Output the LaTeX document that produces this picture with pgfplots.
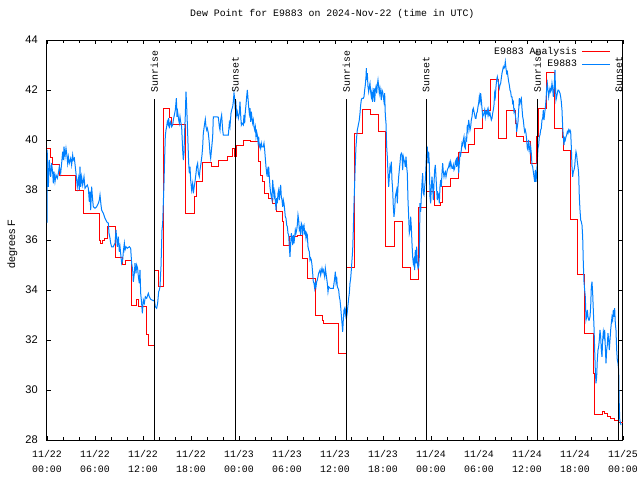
\documentclass[border=0pt]{standalone}
\usepackage{pgfplots}
\pgfplotsset{compat=1.18}
\usepackage{fontspec}
\setmainfont{Liberation Mono}
\setsansfont{Liberation Sans}
\setmonofont{Liberation Mono}
\definecolor{ared}{RGB}{255,0,0}
\definecolor{oblue}{RGB}{0,128,255}
\newcommand{\monof}{\ttfamily\fontsize{7.4}{11.25}\selectfont}
\begin{document}
\begin{tikzpicture}
\path[use as bounding box] (-35.25pt,-30pt) rectangle (444.75pt,330pt);
\begin{axis}[
  at={(0pt,0pt)}, anchor=south west,
  scale only axis, width=432pt, height=300pt,
  xmin=0, xmax=72, ymin=28, ymax=44,
  xtick={0,6,...,72}, minor x tick num=2,
  ytick={28,30,...,44},
  xticklabels={{11/22\\00:00},{11/22\\06:00},{11/22\\12:00},{11/22\\18:00},{11/23\\00:00},{11/23\\06:00},{11/23\\12:00},{11/23\\18:00},{11/24\\00:00},{11/24\\06:00},{11/24\\12:00},{11/24\\18:00},{11/25\\00:00}},
  x tick label style={font=\monof, align=center, inner sep=0pt, yshift=-7.5pt},
  y tick label style={font=\sffamily\fontsize{8.3}{9}\selectfont, inner sep=0pt, xshift=-6.75pt},
  /pgf/number format/assume math mode=true,
  tick align=inside,
  major tick length=3pt, minor tick length=2pt,
  every tick/.style={black, line width=0.6pt},
  axis line style={line width=0.75pt},
  ylabel={degrees F},
  ylabel style={font=\sffamily\fontsize{8}{9}\selectfont, at={(axis description cs:-0.06,0.49)}, anchor=center, rotate=0},
  title={Dew Point for E9883 on 2024-Nov-22 (time in UTC)},
  title style={font=\monof, at={(0.5,1)}, anchor=base, yshift=12pt, xshift=-2pt},
  legend plot pos=right,
  legend cell align=right,
  legend style={draw=none, fill=none, at={(1,1)}, anchor=north east, xshift=-9pt, yshift=-4pt, font=\monof, row sep=1pt, column sep=2.5pt, inner sep=0pt, nodes={inner sep=1pt}},
  legend image code/.code={\draw[#1] (0pt,0pt) -- (21pt,0pt);},
]
\addplot[ared, const plot, line width=0.75pt] coordinates {
(0,39.67) (0.5,39.29) (0.67,39.03) (1.625,38.57) (3.58,38.0) (4.54,37.05) (6.6,36.0) (6.75,35.87) (6.95,36.0) (7.2,36.07) (7.62,36.55) (8.625,35.29) (9.5,35.03) (9.875,35.2) (10.6,33.37) (11.21,33.63) (11.46,33.33) (12.42,32.93) (12.5,32.24) (12.67,31.8) (13.45,34.8) (13.96,34.13) (14.625,41.25) (15.375,40.89) (15.58,40.63) (17.3,37.07) (18.46,37.76) (18.67,38.33) (19.46,39.09) (20.58,38.96) (21.5,39.17) (22.58,39.33) (23.25,39.65) (23.5,39.33) (23.75,39.8) (24.58,40.0) (25.5,39.93) (26.5,39.13) (26.67,38.6) (27.0,38.33) (27.21,37.87) (27.71,37.67) (28.25,37.47) (28.67,37.13) (29.42,36.73) (29.625,35.8) (30.33,36.13) (31.3,36.2) (31.9,35.27) (32.6,34.47) (33.55,33.0) (34.42,32.8) (34.6,32.67) (36.5,31.47) (37.42,34.91) (38.5,40.27) (39.5,41.23) (40.42,41.04) (41.46,40.36) (42.375,35.76) (43.42,36.76) (44.5,34.89) (45.42,34.43) (46.5,37.29) (47.42,37.93) (48.46,37.4) (49.21,37.49) (49.5,38.13) (50.46,38.47) (51.5,39.49) (52.71,39.83) (53.46,40.47) (54.4,41.2) (55.46,42.43) (56.46,40.07) (57.46,41.2) (58.54,40.67) (58.75,40.13) (59.58,39.96) (60.42,39.07) (61.25,40.13) (61.5,41.27) (62.5,42.69) (63.5,40.47) (64.5,40.11) (64.58,39.6) (65.5,36.83) (66.375,34.63) (67.2,32.27) (68.33,30.67) (68.46,29.04) (69.4,29.13) (69.75,29.07) (70.1,28.95) (70.5,28.85) (71.0,28.78) (71.5,28.72) (72,28.7)
};
\addlegendentry{E9883 Analysis}
\addplot[oblue, line width=0.75pt] coordinates {
(0,36.69) (0.02,39.6) (0.17,38.13) (0.29,39.2) (0.46,38.53) (0.58,39.07) (0.71,38.69) (0.79,38.27) (0.875,38.73) (1.0,38.33) (1.125,38.6) (1.29,38.47) (1.42,38.67) (1.54,38.93) (1.71,38.67) (1.83,39.07) (1.96,39.53) (2.04,39.2) (2.125,39.73) (2.25,39.33) (2.375,39.67) (2.46,39.47) (2.58,39.07) (2.67,39.33) (2.79,39.07) (2.96,39.27) (3.08,39.0) (3.21,39.4) (3.29,39.2) (3.42,39.27) (3.58,38.8) (3.71,38.4) (3.79,38.13) (3.92,38.47) (4.04,38.0) (4.125,38.93) (4.21,38.13) (4.33,38.53) (4.46,38.2) (4.625,38.53) (4.75,38.07) (4.875,38.13) (5.04,38.2) (5.17,38.07) (5.29,37.53) (5.375,37.93) (5.46,37.2) (5.58,38.13) (5.71,37.6) (5.79,37.33) (6.0,37.27) (6.21,37.33) (6.42,37.47) (6.54,37.6) (6.625,37.8) (6.75,37.4) (6.83,37.2) (7.04,37.07) (7.25,36.87) (7.46,36.73) (7.67,36.67) (7.75,36.27) (7.875,36.07) (7.96,35.87) (8.08,35.73) (8.29,35.73) (8.5,35.87) (8.625,36.4) (8.71,36.07) (8.79,35.73) (8.92,36.13) (9.04,35.53) (9.125,35.73) (9.25,35.33) (9.33,35.07) (9.46,35.2) (9.54,35.53) (9.67,35.87) (9.75,35.6) (9.875,35.73) (10.04,35.67) (10.29,35.73) (10.46,35.67) (10.58,35.07) (10.71,34.8) (10.79,34.33) (10.92,34.67) (11.0,35.07) (11.125,34.67) (11.21,35.0) (11.33,34.87) (11.42,34.53) (11.54,34.27) (11.625,34.8) (11.71,33.87) (11.83,33.47) (11.92,33.07) (12.04,33.6) (12.17,33.47) (12.29,33.73) (12.46,33.67) (12.67,33.87) (12.79,33.73) (12.96,33.63) (13.125,33.6) (13.29,33.57) (13.42,33.6) (13.54,33.33) (13.71,33.27) (13.83,33.47) (13.96,33.93) (14.04,34.0) (14.125,34.13) (14.25,34.93) (14.375,36.4) (14.46,36.67) (14.54,37.47) (14.625,38.27) (14.71,39.33) (14.79,40.16) (14.875,40.4) (14.96,40.53) (15.04,40.73) (15.125,40.64) (15.21,40.87) (15.29,40.47) (15.375,40.67) (15.46,40.73) (15.58,40.53) (15.71,40.6) (15.79,40.8) (15.92,41.0) (16.04,41.2) (16.17,41.67) (16.25,40.93) (16.33,41.13) (16.46,40.8) (16.54,40.67) (16.625,40.93) (16.71,40.73) (16.83,40.53) (16.96,39.6) (17.04,39.2) (17.125,39.47) (17.21,40.4) (17.29,41.0) (17.375,41.93) (17.46,41.33) (17.54,40.67) (17.625,39.87) (17.71,39.07) (17.79,38.67) (17.875,38.93) (17.96,38.4) (18.08,38.0) (18.21,38.27) (18.29,37.87) (18.375,38.07) (18.5,38.33) (18.625,38.67) (18.71,38.93) (18.83,39.07) (18.92,38.67) (19.04,38.53) (19.125,38.8) (19.25,39.07) (19.375,39.4) (19.46,39.73) (19.54,40.27) (19.625,40.47) (19.71,40.67) (19.79,40.83) (19.875,40.53) (19.96,40.4) (20.04,40.47) (20.17,40.27) (20.29,39.87) (20.375,39.47) (20.46,39.27) (20.58,39.67) (20.71,40.13) (20.79,40.93) (21.0,40.93) (21.21,40.93) (21.42,40.91) (21.54,40.53) (21.625,40.4) (21.71,40.8) (21.83,41.0) (21.96,40.4) (22.04,40.2) (22.25,40.2) (22.46,40.2) (22.67,40.2) (22.79,40.67)
(22.875,40.53) (23.0,41.07) (23.08,41.2) (23.21,41.33) (23.29,41.53) (23.375,41.87) (23.46,41.67) (23.54,41.2) (23.625,41.4) (23.71,41.0) (23.79,41.13) (23.92,40.87) (24.04,41.07) (24.125,41.53) (24.21,41.0) (24.29,40.6) (24.375,40.67) (24.54,40.6) (24.625,41.0) (24.71,40.67) (24.79,41.13) (24.875,41.4) (24.96,41.73) (25.04,42.0) (25.125,41.67) (25.21,41.33) (25.29,41.07) (25.375,41.27) (25.46,40.73) (25.54,41.13) (25.625,40.87) (25.71,40.67) (25.79,40.8) (25.875,40.53) (25.96,40.4) (26.04,40.53) (26.125,40.13) (26.21,40.33) (26.29,40.2) (26.375,39.93) (26.46,40.13) (26.54,39.73) (26.625,39.8) (26.71,39.67) (26.79,39.87) (26.875,39.73) (27.04,39.73) (27.125,39.87) (27.21,39.6) (27.29,39.27) (27.375,38.93) (27.46,38.67) (27.54,38.8) (27.625,38.53) (27.71,38.93) (27.79,38.53) (27.875,38.13) (27.96,37.87) (28.04,37.73) (28.125,37.6) (28.21,38.4) (28.29,38.07) (28.375,37.73) (28.46,37.93) (28.54,37.6) (28.625,37.2) (28.71,37.67) (28.79,37.47) (28.875,37.87) (28.96,38.0) (29.04,37.6) (29.125,37.93) (29.21,38.2) (29.29,37.73) (29.375,37.6) (29.46,37.33) (29.54,37.6) (29.625,37.47) (29.71,37.2) (29.79,36.93) (29.875,36.87) (29.96,36.6) (30.04,36.53) (30.125,36.27) (30.21,36.2) (30.29,35.73) (30.375,35.33) (30.46,35.87) (30.54,36.27) (30.625,36.07) (30.71,35.8) (30.79,36.2) (30.875,35.87) (30.96,36.13) (31.04,36.4) (31.125,36.27) (31.21,36.4) (31.29,36.6) (31.375,37.0) (31.46,36.8) (31.54,36.4) (31.625,36.47) (31.71,36.2) (31.79,36.67) (31.875,36.6) (31.96,36.2) (32.04,36.53) (32.125,36.6) (32.21,36.27) (32.29,36.33) (32.375,36.07) (32.46,36.27) (32.54,36.2) (32.625,35.73) (32.71,35.6) (32.79,35.53) (32.875,35.2) (32.96,35.27) (33.04,35.2) (33.125,35.0) (33.21,34.67) (33.29,34.33) (33.375,34.27) (33.46,34.07) (33.54,34.27) (33.625,34.13) (33.71,34.33) (33.79,34.4) (33.875,34.53) (33.96,34.67) (34.04,34.73) (34.125,34.8) (34.21,34.6) (34.29,34.73) (34.375,34.87) (34.46,34.73) (34.54,34.8) (34.625,34.67) (34.71,34.53) (34.79,34.87) (34.875,34.67) (34.96,34.47) (35.04,34.27) (35.125,33.93) (35.21,34.13) (35.375,34.07) (35.625,34.07) (35.79,34.07) (35.875,34.27) (35.96,34.47) (36.04,34.73) (36.125,34.33) (36.21,34.53) (36.29,34.13) (36.375,34.07) (36.46,34.0) (36.54,33.73) (36.625,33.6) (36.71,33.33) (36.79,33.0) (36.875,32.67) (36.96,32.33) (37.04,32.8) (37.125,33.2) (37.21,33.27) (37.29,33.0) (37.375,33.2) (37.46,32.93) (37.54,33.13) (37.625,33.4) (37.71,33.67) (37.79,33.87) (37.875,34.27) (37.96,34.47) (38.04,34.8) (38.125,35.2) (38.21,35.6) (38.29,36.4) (38.375,37.47) (38.46,38.27) (38.54,39.07) (38.625,39.73) (38.71,40.13) (38.79,40.4) (38.875,40.53) (38.96,40.67) (39.04,40.8) (39.125,41.07) (39.21,41.4) (39.29,41.6) (39.375,41.67) (39.54,41.67) (39.625,41.73) (39.71,42.0) (39.79,42.2) (39.875,42.53) (39.92,42.87) (39.96,42.4) (40.04,42.67) (40.125,42.13) (40.21,41.93) (40.29,42.13) (40.375,42.27) (40.46,41.93) (40.54,41.73) (40.625,41.93) (40.71,41.53) (40.79,41.87) (40.875,42.07) (40.96,41.53) (41.04,42.0) (41.125,42.13) (41.21,41.87) (41.29,42.2) (41.375,42.4) (41.46,42.13) (41.54,41.87) (41.625,42.07) (41.71,41.87) (41.79,41.6) (41.875,42.0) (41.96,41.93) (42.04,41.73) (42.125,41.53) (42.21,41.87) (42.29,41.0) (42.375,40.67) (42.46,39.73) (42.54,39.33) (42.625,38.67) (42.71,38.13) (42.79,38.53) (42.875,38.93) (42.96,38.8) (43.04,39.13) (43.125,38.4) (43.21,38.0) (43.29,37.33) (43.375,36.93) (43.46,37.2) (43.54,37.73) (43.625,37.87) (43.71,38.0) (43.79,37.47) (43.875,38.13) (43.96,38.53) (44.04,38.8) (44.125,39.07) (44.21,39.4) (44.29,39.47) (44.375,39.4) (44.46,38.8) (44.54,39.33) (44.625,39.2) (44.71,39.13) (44.79,38.93) (44.875,39.33) (44.96,38.93) (45.04,38.67) (45.125,37.6) (45.21,36.93) (45.29,36.27) (45.375,36.4) (45.46,36.93) (45.54,36.53) (45.625,35.87) (45.71,35.33) (45.79,35.07) (45.875,35.2) (45.96,34.8) (46.04,35.6) (46.125,35.07) (46.21,35.73) (46.29,35.07) (46.375,34.87) (46.46,34.93) (46.54,35.33)
(46.625,37.47) (46.71,37.13) (46.79,37.73) (46.875,38.27) (46.96,38.67) (47.04,37.87) (47.125,37.8) (47.21,38.13) (47.29,38.4) (47.375,38.93) (47.46,39.6) (47.54,39.67) (47.625,39.07) (47.71,39.53) (47.79,39.07) (47.875,37.73) (47.96,37.47) (48.04,38.13) (48.125,38.53) (48.21,38.13) (48.29,37.6) (48.375,38.27) (48.46,38.8) (48.54,39.0) (48.625,38.53) (48.71,38.0) (48.79,37.6) (48.875,37.87) (48.96,37.8) (49.04,37.47) (49.125,38.13) (49.21,38.4) (49.29,38.13) (49.375,38.67) (49.46,39.07) (49.54,38.73) (49.625,38.53) (49.71,38.67) (49.79,38.73) (49.875,38.53) (49.96,38.67) (50.04,38.8) (50.125,38.87) (50.21,38.93) (50.29,39.07) (50.375,38.93) (50.46,39.13) (50.54,39.0) (50.625,38.87) (50.71,38.87) (50.79,39.0) (50.875,38.8) (50.96,38.87) (51.04,39.13) (51.125,39.2) (51.21,38.93) (51.29,39.33) (51.375,39.13) (51.46,38.67) (51.54,39.07) (51.625,39.47) (51.71,39.4) (51.79,39.6) (51.875,39.87) (51.96,39.8) (52.04,40.0) (52.125,40.13) (52.21,39.73) (52.29,39.67) (52.375,40.07) (52.46,40.0) (52.54,40.6) (52.625,40.4) (52.71,40.8) (52.79,40.6) (52.875,40.4) (52.96,40.53) (53.04,40.8) (53.125,40.93) (53.21,41.2) (53.29,41.27) (53.375,41.13) (53.46,41.0) (53.54,40.87) (53.625,40.87) (53.71,41.07) (53.79,41.13) (53.875,41.33) (53.96,41.47) (54.04,41.73) (54.125,41.53) (54.21,41.87) (54.29,41.6) (54.375,41.27) (54.46,40.93) (54.54,41.0) (54.625,41.07) (54.71,41.2) (54.79,40.93) (54.875,41.13) (54.96,41.07) (55.04,41.2) (55.125,41.0) (55.21,41.2) (55.29,41.0) (55.375,41.07) (55.46,40.93) (55.54,40.8) (55.625,40.87) (55.71,41.07) (55.79,41.2) (55.875,41.4) (55.96,41.87) (56.04,41.73) (56.125,42.13) (56.21,42.4) (56.29,42.53) (56.375,42.4) (56.46,42.2) (56.54,42.07) (56.625,42.2) (56.71,42.27) (56.79,42.47) (56.875,42.67) (56.96,42.8) (57.04,42.93) (57.125,42.87) (57.21,42.93) (57.29,43.13) (57.375,42.87) (57.46,42.67) (57.54,42.73) (57.625,42.53) (57.71,42.33) (57.79,42.2) (57.875,42.0) (57.96,41.93) (58.04,41.73) (58.125,41.73) (58.21,41.47) (58.29,41.53) (58.375,41.13) (58.46,41.2) (58.54,41.0) (58.625,40.8) (58.71,40.33) (58.79,40.53) (58.875,40.73) (58.96,41.2) (59.04,41.67) (59.125,41.47) (59.21,41.6) (59.29,41.67) (59.375,41.27) (59.46,40.93) (59.54,40.8) (59.625,40.53) (59.71,40.33) (59.79,40.4) (59.875,40.27) (59.96,40.0) (60.04,39.67) (60.125,39.6) (60.21,40.0) (60.29,39.73) (60.375,39.53) (60.46,39.73) (60.54,39.47) (60.625,39.0) (60.71,38.93) (60.79,38.73) (60.875,38.53) (60.96,38.33) (61.04,38.8) (61.125,38.33) (61.21,38.67) (61.29,39.2) (61.375,39.67) (61.46,39.8) (61.54,40.13) (61.625,40.2) (61.71,40.4) (61.79,40.47) (61.875,40.8) (61.96,40.87) (62.04,41.2) (62.125,40.8) (62.21,41.07) (62.29,41.27) (62.375,41.6) (62.46,42.07) (62.54,42.27) (62.625,42.0) (62.71,41.73) (62.79,41.93) (62.875,42.07) (62.96,41.93) (63.04,42.0) (63.125,42.27) (63.21,42.07) (63.29,41.73) (63.375,42.0) (63.46,42.53) (63.5,42.8) (63.54,42.27) (63.625,41.6) (63.71,41.73) (63.79,41.87) (63.875,42.0) (63.96,42.0) (64.04,41.93) (64.125,41.87) (64.21,41.73) (64.29,41.53) (64.375,41.2) (64.46,40.53) (64.54,40.13) (64.625,39.8) (64.71,40.07) (64.79,40.0) (64.875,40.13) (64.96,40.2) (65.04,40.33) (65.125,40.27) (65.21,40.4) (65.29,40.33) (65.375,40.4) (65.46,40.33) (65.54,39.73) (65.625,38.93) (65.71,38.53) (65.79,38.73) (65.875,38.8) (65.96,38.93) (66.04,39.27) (66.125,39.53) (66.21,39.4) (66.29,39.13) (66.375,38.93) (66.46,38.67) (66.54,37.73) (66.625,37.2) (66.71,36.8) (66.79,36.73) (66.875,36.6) (66.96,36.13) (67.04,35.07) (67.125,34.33) (67.21,34.0) (67.29,33.73) (67.375,32.8) (67.46,32.93) (67.54,33.2) (67.625,32.93) (67.71,32.8) (67.79,32.8) (67.875,32.93) (67.96,33.33) (68.04,34.13) (68.125,34.33) (68.21,33.87) (68.29,33.2) (68.375,32.53) (68.46,31.6) (68.54,30.8) (68.625,30.27) (68.71,30.53) (68.79,31.2) (68.875,31.6) (68.96,31.73) (69.04,32.0) (69.125,32.4) (69.21,32.13) (69.29,31.6) (69.375,31.33) (69.46,32.0) (69.54,32.33) (69.625,32.13) (69.71,32.4) (69.79,31.73) (69.875,31.07) (69.96,31.6) (70.04,31.8) (70.125,32.27) (70.21,32.0) (70.29,31.6) (70.375,32.0) (70.46,32.4) (70.54,32.67) (70.625,32.93) (70.71,32.8) (70.79,33.2) (70.875,32.93) (70.96,33.27) (71.04,32.67) (71.125,32.4) (71.21,31.6) (71.29,31.2) (71.375,31.07) (71.46,30.8) (71.5,30.0) (71.54,29.33) (71.6,28.8) (71.75,28.6)
};
\addlegendentry{E9883}
\addplot[black, line width=0.75pt, forget plot] coordinates {(13.41,28) (13.41,41.64)};
\addplot[black, line width=0.75pt, forget plot] coordinates {(23.56,28) (23.56,41.64)};
\addplot[black, line width=0.75pt, forget plot] coordinates {(37.41,28) (37.41,41.64)};
\addplot[black, line width=0.75pt, forget plot] coordinates {(47.40,28) (47.40,41.64)};
\addplot[black, line width=0.75pt, forget plot] coordinates {(61.30,28) (61.30,41.64)};
\addplot[black, line width=0.75pt, forget plot] coordinates {(71.50,28) (71.50,41.64)};
\node[rotate=90, anchor=west, inner sep=0pt, font=\monof] at (axis cs:13.41,41.9) {Sunrise};
\node[rotate=90, anchor=west, inner sep=0pt, font=\monof] at (axis cs:23.56,41.9) {Sunset};
\node[rotate=90, anchor=west, inner sep=0pt, font=\monof] at (axis cs:37.41,41.9) {Sunrise};
\node[rotate=90, anchor=west, inner sep=0pt, font=\monof] at (axis cs:47.40,41.9) {Sunset};
\node[rotate=90, anchor=west, inner sep=0pt, font=\monof] at (axis cs:61.30,41.9) {Sunrise};
\node[rotate=90, anchor=west, inner sep=0pt, font=\monof] at (axis cs:71.50,41.9) {Sunset};
\end{axis}
\end{tikzpicture}
\end{document}
